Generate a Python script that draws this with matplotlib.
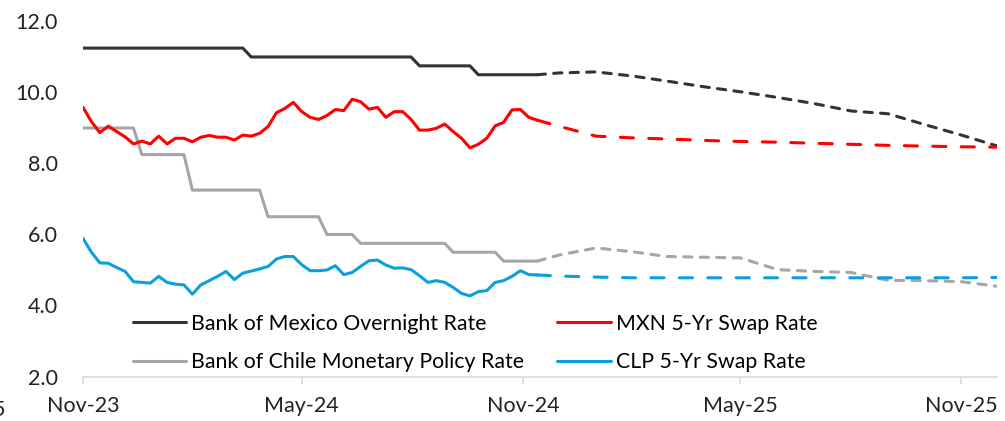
import matplotlib
matplotlib.use("Agg")
import matplotlib.pyplot as plt
import pandas as pd
from matplotlib.lines import Line2D
from matplotlib.ticker import FormatStrFormatter

plt.rcParams["font.family"] = ["Lato", "DejaVu Sans"]

# ── Data ───────────────────────────────────────────────────────────────────────
# weekly history, Nov-23 to mid Nov-24
hist_dates = pd.date_range("2023-11-01", periods=55, freq="7D")

banxico_hist = [11.25] * 20 + [11.00] * 20 + [10.75] * 7 + [10.50] * 8
bcch_hist = ([9.00] * 7 + [8.25] * 6 + [7.25] * 9 + [6.50] * 7 + [6.00] * 4
             + [5.75] * 11 + [5.50] * 6 + [5.25] * 5)
mxn_swap_hist = [
    9.58, 9.18, 8.87, 9.05, 8.90, 8.75, 8.55, 8.63, 8.55, 8.77,
    8.55, 8.71, 8.71, 8.61, 8.74, 8.79, 8.74, 8.74, 8.66, 8.80,
    8.77, 8.85, 9.04, 9.43, 9.55, 9.72, 9.46, 9.30, 9.24, 9.35,
    9.52, 9.49, 9.81, 9.74, 9.53, 9.58, 9.30, 9.46, 9.46, 9.24,
    8.94, 8.94, 8.99, 9.11, 8.90, 8.71, 8.44, 8.54, 8.71, 9.06,
    9.16, 9.51, 9.52, 9.30, 9.22,
]
clp_swap_hist = [
    5.89, 5.50, 5.20, 5.19, 5.07, 4.96, 4.67, 4.65, 4.63, 4.82,
    4.65, 4.60, 4.58, 4.32, 4.58, 4.70, 4.82, 4.96, 4.73, 4.91,
    4.97, 5.03, 5.10, 5.31, 5.38, 5.38, 5.15, 4.98, 4.98, 5.00,
    5.12, 4.87, 4.93, 5.10, 5.26, 5.28, 5.14, 5.05, 5.06, 5.01,
    4.84, 4.65, 4.70, 4.65, 4.51, 4.34, 4.27, 4.39, 4.42, 4.65,
    4.70, 4.82, 4.98, 4.87, 4.86,
]

# forecasts: last observation, then month starts Dec-24 .. Dec-25
fc_dates = [pd.Timestamp("2024-11-13")] + list(pd.date_range("2024-12-01", "2025-12-01", freq="MS"))
banxico_fc = [10.50, 10.55, 10.58, 10.46, 10.32, 10.16, 10.02, 9.86, 9.69, 9.48, 9.40, 9.10, 8.80, 8.49]
bcch_fc = [5.25, 5.42, 5.62, 5.51, 5.38, 5.36, 5.34, 5.01, 4.96, 4.93, 4.71, 4.70, 4.67, 4.54]
mxn_swap_fc = [9.22, 9.05, 8.77, 8.72, 8.69, 8.65, 8.62, 8.60, 8.57, 8.54, 8.51, 8.49, 8.47, 8.46]
clp_swap_fc = [4.86, 4.83, 4.80, 4.78, 4.78, 4.78, 4.78, 4.78, 4.78, 4.78, 4.78, 4.78, 4.78, 4.79]

labels = ["Bank of Mexico Overnight Rate", "Bank of Chile Monetary Policy Rate",
          "MXN 5-Yr Swap Rate", "CLP 5-Yr Swap Rate"]
tick_dates = pd.to_datetime(["2023-11-01", "2024-05-01", "2024-11-01", "2025-05-01", "2025-11-01"])
tick_labels = ["Nov-23", "May-24", "Nov-24", "May-25", "Nov-25"]

# ── Plot ───────────────────────────────────────────────────────────────────────
BLACK, GRAY, RED, BLUE = "#333333", "#a6a6a6", "#ff0000", "#0aa0dc"
LW = 2.2
SHORT = (2.7, 2.7)   # central bank forecasts
LONG = (4.3, 5.0)    # swap forecasts

fig = plt.figure(figsize=(10.05, 4.21), dpi=100)
ax = fig.add_axes([0.0826, 0.1057, 0.9099, 0.8433])

series = [
    (bcch_hist, bcch_fc, GRAY, SHORT),
    (banxico_hist, banxico_fc, BLACK, SHORT),
    (mxn_swap_hist, mxn_swap_fc, RED, LONG),
    (clp_swap_hist, clp_swap_fc, BLUE, LONG),
]
for hist, fc, col, dash in series:
    ax.plot(hist_dates, hist, color=col, lw=LW, solid_joinstyle="round",
            solid_capstyle="round")
    ax.plot(fc_dates, fc, color=col, lw=LW, dashes=dash,
            dash_capstyle="round", dash_joinstyle="round")

ax.set_xlim(pd.Timestamp("2023-11-01"), pd.Timestamp("2025-12-01"))
ax.set_ylim(2, 12)
ax.set_yticks([2, 4, 6, 8, 10, 12])
ax.yaxis.set_major_formatter(FormatStrFormatter("%.1f"))
ax.set_xticks(tick_dates)
ax.set_xticklabels(tick_labels)

for side in ("left", "right", "top"):
    ax.spines[side].set_visible(False)
ax.spines["bottom"].set_color("#d9d9d9")
ax.spines["bottom"].set_linewidth(1.2)
ax.tick_params(axis="y", length=0, pad=18, labelsize=15.5, labelcolor="#222222")
ax.tick_params(axis="x", length=5, width=1.2, color="#d9d9d9", pad=9,
               labelsize=15.5, labelcolor="#222222")

handles = [
    Line2D([], [], color=BLACK, lw=LW, solid_capstyle="round"),
    Line2D([], [], color=GRAY, lw=LW, solid_capstyle="round"),
    Line2D([], [], color=RED, lw=LW, solid_capstyle="round"),
    Line2D([], [], color=BLUE, lw=LW, solid_capstyle="round"),
]
ax.legend(handles, labels, ncol=2, loc="lower left", bbox_to_anchor=(0.0547, 0.0125),
          frameon=False, fontsize=15.3, handlelength=2.5, handletextpad=0.25,
          columnspacing=1.55, labelspacing=0.87, borderaxespad=0, borderpad=0)

# clipped label at the far left edge, as in the source image
fig.text(5 / 1005, 1 - 410 / 421, "5", fontsize=15.5, color="#222222",
         ha="right", va="center")

fig.savefig("out.png", dpi=100)
plt.close(fig)
